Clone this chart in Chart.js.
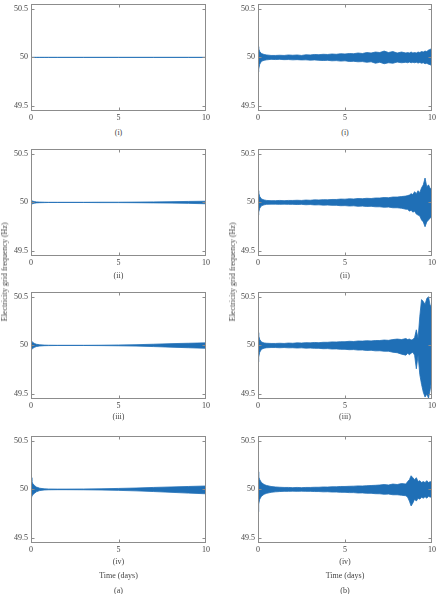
<!DOCTYPE html>
<html>
<head>
<meta charset="utf-8">
<script src="https://cdn.jsdelivr.net/npm/chart.js@4.4.0/dist/chart.umd.min.js"></script>
<style>
  body { margin: 0; background: #fff; }
  #wrap { position: relative; width: 438px; height: 594px; overflow: hidden; font-family: "Liberation Serif", "DejaVu Serif", serif; color: #444; }
  canvas { position: absolute; }
  .cap { position: absolute; font-size: 8px; line-height: 10px; transform: translate(-50%, -50%); white-space: nowrap; }
  .ylab { position: absolute; font-size: 8px; line-height: 10px; white-space: nowrap; transform: translate(-50%, -50%) rotate(-90deg); }
</style>
</head>
<body>
<div id="wrap"></div>
<script>
// tick labels
const xTicks = [0, 5, 10];
const yTicks = [49.5, 50, 50.5];
const captions = ['(i)', '(ii)', '(iii)', '(iv)'];

// time (days) sample points
const leftTimes = [0, 0.05, 0.1, 0.2, 0.3, 0.5, 0.75, 1, 1.5, 2, 3, 4, 5, 6, 7, 8, 9, 10];
const rightTimes = [0, 0.04, 0.1, 0.2, 0.35, 0.5, 0.75,
  1, 1.25, 1.5, 1.75, 2, 2.25, 2.5, 2.75, 3, 3.25, 3.5, 3.75, 4, 4.25, 4.5, 4.75,
  5, 5.25, 5.5, 5.75, 6, 6.25, 6.5, 6.75, 7, 7.25, 7.5, 7.75, 8, 8.25, 8.5,
  8.6, 8.7, 8.8, 8.9, 9, 9.1, 9.2, 9.3, 9.4, 9.5, 9.6, 9.7, 9.8, 9.9, 10];

// (a) envelopes of the frequency trace (Hz)
const a1Upper = [50, 50, 50, 50, 50, 50, 50, 50, 50, 50, 50, 50, 50, 50, 50, 50, 50, 50];
const a1Lower = [50, 50, 50, 50, 50, 50, 50, 50, 50, 50, 50, 50, 50, 50, 50, 50, 50, 50];
const a2Upper = [50.02, 50.018, 50.012, 50.008, 50.005, 50.003, 50.002, 50.001, 50.001, 50.001, 50.001, 50.002, 50.002, 50.003, 50.005, 50.007, 50.01, 50.012];
const a2Lower = [49.98, 49.982, 49.988, 49.992, 49.995, 49.997, 49.998, 49.999, 49.999, 49.999, 49.999, 49.998, 49.998, 49.997, 49.995, 49.993, 49.99, 49.986];
const a3Upper = [50.045, 50.04, 50.03, 50.02, 50.012, 50.006, 50.003, 50.002, 50.001, 50.001, 50.001, 50.002, 50.004, 50.007, 50.012, 50.018, 50.022, 50.026];
const a3Lower = [49.955, 49.96, 49.97, 49.98, 49.988, 49.994, 49.997, 49.998, 49.999, 49.999, 49.999, 49.998, 49.996, 49.993, 49.988, 49.982, 49.976, 49.97];
const a4Upper = [50.12, 50.08, 50.06, 50.04, 50.025, 50.012, 50.006, 50.004, 50.003, 50.003, 50.004, 50.006, 50.01, 50.014, 50.02, 50.025, 50.03, 50.035];
const a4Lower = [49.92, 49.93, 49.945, 49.96, 49.975, 49.988, 49.994, 49.996, 49.997, 49.997, 49.996, 49.994, 49.99, 49.985, 49.978, 49.97, 49.962, 49.955];

// (b) envelopes of the frequency trace (Hz)
const b1Upper = [50.11, 50.09, 50.06, 50.04, 50.03, 50.025, 50.02,
  50.02, 50.022, 50.02, 50.025, 50.022, 50.025, 50.02, 50.027, 50.025, 50.03, 50.028, 50.032, 50.03, 50.035, 50.032, 50.038,
  50.035, 50.04, 50.038, 50.045, 50.04, 50.05, 50.045, 50.055, 50.05, 50.065, 50.05, 50.06, 50.045, 50.055, 50.045,
  50.05, 50.045, 50.055, 50.045, 50.05, 50.045, 50.055, 50.05, 50.06, 50.055, 50.065, 50.06, 50.075, 50.08, 50.1];
const b1Lower = [49.85, 49.88, 49.93, 49.96, 49.97, 49.975, 49.98,
  49.978, 49.98, 49.977, 49.978, 49.975, 49.977, 49.974, 49.975, 49.972, 49.974, 49.97, 49.968, 49.97, 49.965, 49.967, 49.962,
  49.965, 49.958, 49.96, 49.955, 49.957, 49.95, 49.955, 49.94, 49.95, 49.935, 49.945, 49.94, 49.952, 49.945, 49.95,
  49.945, 49.952, 49.945, 49.95, 49.945, 49.95, 49.942, 49.948, 49.94, 49.945, 49.935, 49.94, 49.93, 49.925, 49.91];
const b2Upper = [50.12, 50.1, 50.06, 50.035, 50.025, 50.02, 50.018,
  50.018, 50.02, 50.018, 50.02, 50.02, 50.022, 50.02, 50.024, 50.022, 50.026, 50.025, 50.028, 50.027, 50.03, 50.03, 50.034,
  50.033, 50.037, 50.035, 50.04, 50.038, 50.042, 50.04, 50.045, 50.045, 50.05, 50.048, 50.055, 50.055, 50.06, 50.065,
  50.07, 50.075, 50.09, 50.08, 50.11, 50.09, 50.12, 50.1, 50.15, 50.18, 50.25, 50.16, 50.18, 50.14, 50.15];
const b2Lower = [49.87, 49.9, 49.94, 49.965, 49.975, 49.98, 49.982,
  49.982, 49.98, 49.982, 49.98, 49.98, 49.978, 49.98, 49.976, 49.978, 49.974, 49.975, 49.972, 49.973, 49.97, 49.97, 49.966,
  49.967, 49.963, 49.965, 49.96, 49.962, 49.958, 49.96, 49.955, 49.955, 49.95, 49.952, 49.945, 49.945, 49.94, 49.93,
  49.93, 49.91, 49.92, 49.9, 49.91, 49.88, 49.87, 49.86, 49.82, 49.8, 49.75, 49.8, 49.82, 49.84, 49.86];
const b3Upper = [50.13, 50.1, 50.06, 50.035, 50.025, 50.022, 50.02,
  50.02, 50.022, 50.02, 50.024, 50.022, 50.026, 50.024, 50.028, 50.026, 50.03, 50.028, 50.032, 50.032, 50.036, 50.035, 50.038,
  50.038, 50.042, 50.04, 50.045, 50.044, 50.048, 50.046, 50.05, 50.05, 50.055, 50.052, 50.06, 50.065, 50.06, 50.07,
  50.06, 50.065, 50.055, 50.06, 50.08, 50.16, 50.07, 50.3, 50.47, 50.45, 50.42, 50.48, 50.5, 50.4, 50.43];
const b3Lower = [49.83, 49.88, 49.93, 49.96, 49.972, 49.976, 49.978,
  49.978, 49.976, 49.978, 49.975, 49.976, 49.973, 49.975, 49.972, 49.973, 49.97, 49.97, 49.966, 49.967, 49.963, 49.964, 49.96,
  49.96, 49.956, 49.957, 49.952, 49.953, 49.948, 49.95, 49.944, 49.945, 49.94, 49.94, 49.93, 49.925, 49.91, 49.9,
  49.92, 49.905, 49.92, 49.93, 49.9, 49.76, 49.9, 49.7, 49.6, 49.52, 49.47, 49.5, 49.46, 49.55, 49.67];
const b4Upper = [50.18, 50.13, 50.1, 50.07, 50.05, 50.04, 50.03,
  50.025, 50.022, 50.02, 50.02, 50.018, 50.02, 50.018, 50.02, 50.02, 50.022, 50.022, 50.025, 50.024, 50.027, 50.027, 50.03,
  50.03, 50.032, 50.033, 50.036, 50.035, 50.038, 50.04, 50.042, 50.045, 50.05, 50.045, 50.055, 50.05, 50.06, 50.055,
  50.08, 50.1, 50.14, 50.12, 50.1, 50.12, 50.08, 50.09, 50.07, 50.08, 50.07, 50.09, 50.07, 50.08, 50.07];
const b4Lower = [49.77, 49.85, 49.9, 49.93, 49.95, 49.96, 49.97,
  49.975, 49.978, 49.98, 49.98, 49.982, 49.98, 49.982, 49.98, 49.98, 49.978, 49.978, 49.975, 49.976, 49.973, 49.973, 49.97,
  49.97, 49.967, 49.967, 49.963, 49.964, 49.96, 49.96, 49.956, 49.955, 49.95, 49.952, 49.945, 49.945, 49.94, 49.935,
  49.92, 49.88, 49.83, 49.86, 49.9, 49.88, 49.91, 49.9, 49.92, 49.91, 49.925, 49.91, 49.93, 49.92, 49.93];

const panels = [
  { col: 0, row: 0, times: leftTimes, upper: a1Upper, lower: a1Lower },
  { col: 0, row: 1, times: leftTimes, upper: a2Upper, lower: a2Lower },
  { col: 0, row: 2, times: leftTimes, upper: a3Upper, lower: a3Lower },
  { col: 0, row: 3, times: leftTimes, upper: a4Upper, lower: a4Lower },
  { col: 1, row: 0, times: rightTimes, upper: b1Upper, lower: b1Lower },
  { col: 1, row: 1, times: rightTimes, upper: b2Upper, lower: b2Lower },
  { col: 1, row: 2, times: rightTimes, upper: b3Upper, lower: b3Lower },
  { col: 1, row: 3, times: rightTimes, upper: b4Upper, lower: b4Lower }
];

const rowTops = [1, 146, 289, 433];
const plotH = 110;
const colLeft = [0, 219];
const axisW = [31, 39];   // y axis width -> plot left 31 / 258
const padRight = [13, 6]; // plot right 206 / 432
const blue = '#1f6fb6';
const tickFont = { family: '"Liberation Serif", "DejaVu Serif", serif', size: 8 };

// draws the grey box and inward tick marks
const framePlugin = {
  id: 'frame',
  afterDraw(chart) {
    const { ctx, chartArea: a, scales } = chart;
    const L = Math.round(a.left) + 0.5, R = Math.round(a.right) - 0.5;
    const T = Math.round(a.top) + 0.5, B = Math.round(a.bottom) - 0.5;
    const clamp = (v, lo, hi) => Math.min(hi, Math.max(lo, v));
    ctx.save();
    ctx.strokeStyle = '#8c8c8c';
    ctx.lineWidth = 1;
    ctx.strokeRect(L, T, R - L, B - T);
    ctx.beginPath();
    xTicks.forEach(v => {
      const x = clamp(Math.round(scales.x.getPixelForValue(v)) + 0.5, L, R);
      ctx.moveTo(x, B); ctx.lineTo(x, B - 3);
      ctx.moveTo(x, T); ctx.lineTo(x, T + 3);
    });
    yTicks.forEach(v => {
      const y = clamp(Math.round(scales.y.getPixelForValue(v)) + 0.5, T, B);
      ctx.moveTo(L, y); ctx.lineTo(L + 3, y);
      ctx.moveTo(R, y); ctx.lineTo(R - 3, y);
    });
    ctx.stroke();
    ctx.restore();
  }
};

const wrap = document.getElementById('wrap');

panels.forEach(p => {
  const canvas = document.createElement('canvas');
  const padTop = 5;
  canvas.width = 219;
  canvas.height = padTop + plotH + 16;
  canvas.style.left = colLeft[p.col] + 'px';
  canvas.style.top = (rowTops[p.row] - padTop) + 'px';
  wrap.appendChild(canvas);

  const toPts = arr => p.times.map((t, i) => ({ x: t, y: arr[i] }));
  new Chart(canvas.getContext('2d'), {
    type: 'line',
    data: {
      datasets: [
        { data: toPts(p.upper), fill: '+1', borderColor: blue, backgroundColor: blue, borderWidth: 0.8 },
        { data: toPts(p.lower), fill: false, borderColor: blue, backgroundColor: blue, borderWidth: 0.8 }
      ]
    },
    options: {
      responsive: false,
      animation: false,
      devicePixelRatio: 1,
      layout: { padding: { top: padTop, right: padRight[p.col], left: 0, bottom: 0 } },
      elements: { point: { radius: 0 }, line: { tension: 0 } },
      plugins: { legend: { display: false }, tooltip: { enabled: false } },
      scales: {
        x: {
          type: 'linear', min: 0, max: 10,
          grid: { display: false, drawTicks: false }, border: { display: false },
          afterBuildTicks: s => { s.ticks = xTicks.map(v => ({ value: v })); },
          afterFit: s => { s.height = 16; },
          ticks: { font: tickFont, color: '#444', padding: 2, maxRotation: 0, callback: v => String(v) }
        },
        y: {
          min: 49.45, max: 50.55,
          grid: { display: false, drawTicks: false }, border: { display: false },
          afterBuildTicks: s => { s.ticks = yTicks.map(v => ({ value: v })); },
          afterFit: s => { s.width = axisW[p.col]; },
          ticks: { font: tickFont, color: '#444', padding: 3, callback: v => String(v) }
        }
      }
    },
    plugins: [framePlugin]
  });
});

// captions and axis titles
function addText(cls, text, x, y) {
  const d = document.createElement('div');
  d.className = cls;
  d.textContent = text;
  d.style.left = x + 'px';
  d.style.top = y + 'px';
  wrap.appendChild(d);
}
const capY = [133, 276, 417, 562];
const centers = [118.5, 345];
centers.forEach((cx, c) => {
  captions.forEach((t, r) => addText('cap', t, cx, capY[r]));
  addText('cap', 'Time (days)', cx, 576);
  addText('cap', c === 0 ? '(a)' : '(b)', cx, 591);
});
addText('ylab', 'Electricity grid frequency (Hz)', 5, 272);
addText('ylab', 'Electricity grid frequency (Hz)', 233, 272);
</script>
</body>
</html>
